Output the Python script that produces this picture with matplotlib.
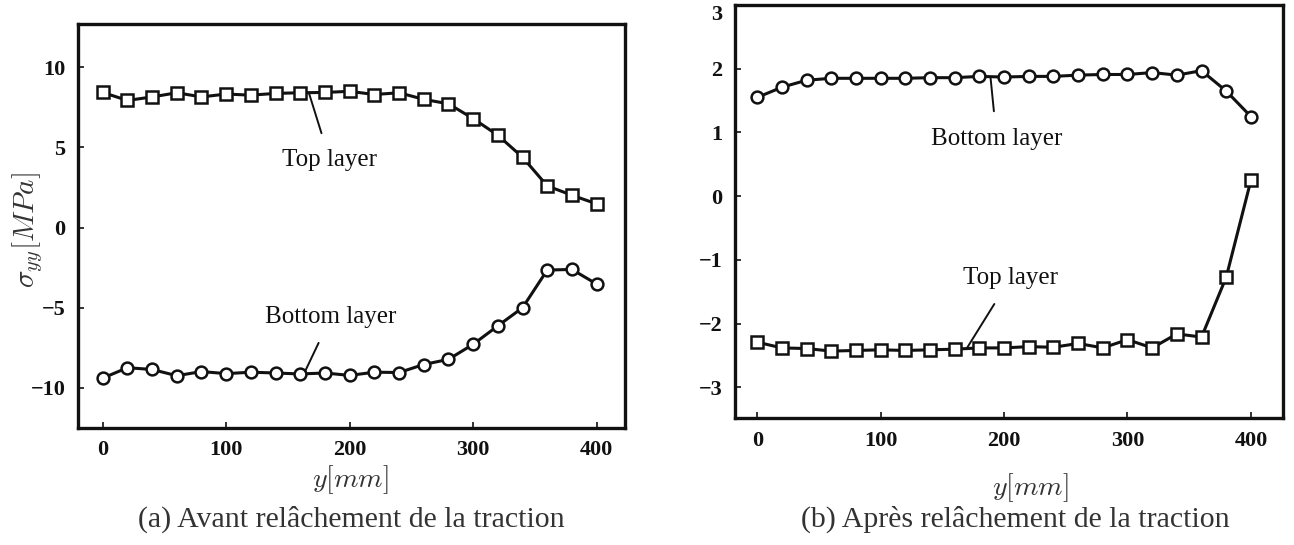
import numpy as np
import matplotlib
matplotlib.use('Agg')
from matplotlib import pyplot as plt

plt.rcParams['mathtext.fontset'] = 'cm'
plt.rcParams['font.family'] = ['Liberation Serif', 'DejaVu Serif']

# positions along y [mm]
y_mm = [0, 20, 40, 60, 80, 100, 120, 140, 160, 180, 200,
        220, 240, 260, 280, 300, 320, 340, 360, 380, 400]

# (a) before releasing traction
top_a = [8.43, 7.93, 8.15, 8.41, 8.15, 8.33, 8.26, 8.37, 8.41, 8.43, 8.50,
         8.30, 8.41, 8.00, 7.72, 6.80, 5.76, 4.39, 2.60, 2.02, 1.48]
bottom_a = [-9.39, -8.74, -8.85, -9.24, -8.98, -9.11, -9.02, -9.07, -9.13, -9.07, -9.22,
            -9.02, -9.04, -8.54, -8.22, -7.28, -6.13, -5.00, -2.65, -2.61, -3.52]

# (b) after releasing traction
bottom_b = [1.55, 1.71, 1.82, 1.85, 1.85, 1.85, 1.85, 1.86, 1.86, 1.88, 1.87,
            1.88, 1.88, 1.90, 1.91, 1.91, 1.94, 1.90, 1.97, 1.65, 1.25]
top_b = [-2.29, -2.38, -2.39, -2.43, -2.42, -2.41, -2.42, -2.41, -2.40, -2.38, -2.38,
         -2.36, -2.37, -2.31, -2.38, -2.25, -2.38, -2.16, -2.21, -1.27, 0.25]

xticks = [0, 100, 200, 300, 400]
yticks_a = [-10, -5, 0, 5, 10]
yticks_b = [-3, -2, -1, 0, 1, 2, 3]

fig = plt.figure(figsize=(12.94, 5.45), dpi=100)
ax1 = fig.add_axes([0.0603, 0.2147, 0.4227, 0.7413])
ax2 = fig.add_axes([0.568, 0.233, 0.4235, 0.7578])

line_kw = dict(color='#111111', linewidth=2.2, markerfacecolor='white',
               markeredgecolor='#111111', markeredgewidth=1.8, markersize=8.5)

ax1.plot(y_mm, top_a, marker='s', **line_kw)
ax1.plot(y_mm, bottom_a, marker='o', **line_kw)
ax2.plot(y_mm, bottom_b, marker='o', **line_kw)
ax2.plot(y_mm, top_b, marker='s', **line_kw)

ax1.set_xlim(-20, 423)
ax1.set_ylim(-12.5, 12.7)
ax2.set_xlim(-18, 426)
ax2.set_ylim(-3.48, 3.0)

ax1.set_xticks(xticks)
ax1.set_yticks(yticks_a)
ax2.set_xticks(xticks)
ax2.set_yticks(yticks_b)

for ax in (ax1, ax2):
    for s in ax.spines.values():
        s.set_linewidth(2.4)
        s.set_color('#111111')
    ax.tick_params(direction='in', length=4, width=1.2, colors='#111111',
                   labelsize=16, pad=9)
    for lab in ax.get_xticklabels() + ax.get_yticklabels():
        lab.set_fontweight('bold')

# the "3" label sits just under the top frame
ax2.get_yticklabels()[-1].set_va('top')

# annotations with leader lines
txt_kw = dict(fontsize=18, ha='center', va='center', color='#111111',
              arrowprops=dict(arrowstyle='-', color='#111111', lw=1.4,
                              shrinkA=10, shrinkB=0))
ax1.annotate('Top layer', xy=(167, 8.4), xytext=(184, 4.2), **txt_kw)
ax1.annotate('Bottom layer', xy=(164, -8.95), xytext=(185, -5.55), **txt_kw)
ax2.annotate('Bottom layer', xy=(189, 1.87), xytext=(194, 0.9), **txt_kw)
ax2.annotate('Top layer', xy=(170, -2.38), xytext=(205, -1.29), **txt_kw)

# axis labels
fig.text(0.0216, 0.578, r'$\sigma_{yy}[MPa]$', rotation=90, fontsize=21,
         ha='center', va='center', color='#333333')
fig.text(0.2705, 0.120, r'$y[mm]$', fontsize=20, ha='center', va='center',
         color='#333333')
fig.text(0.796, 0.106, r'$y[mm]$', fontsize=20, ha='center', va='center',
         color='#333333')

# sub-captions
fig.text(0.2713, 0.048, '(a) Avant relâchement de la traction', fontsize=21.5,
         ha='center', va='center', color='#333333')
fig.text(0.7844, 0.048, '(b) Après relâchement de la traction', fontsize=21.5,
         ha='center', va='center', color='#333333')

fig.savefig('out.png', dpi=100)
